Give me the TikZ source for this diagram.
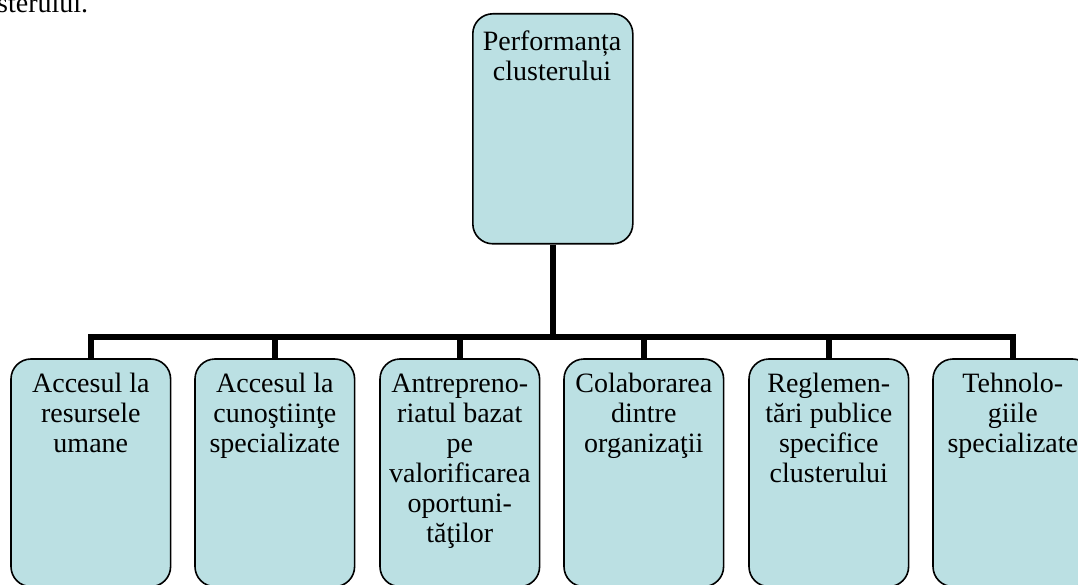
\documentclass[tikz,border=0pt]{standalone}
\usepackage{fontspec}
\setmainfont{Liberation Serif}
\definecolor{boxfill}{RGB}{187,224,227}
\begin{document}
\begin{tikzpicture}[x=1pt,y=-1pt,
  box/.style={draw=black, line width=1.6pt, fill=boxfill, rounded corners=20pt,
    minimum width=158pt, minimum height=226pt, inner sep=0pt, anchor=north west},
  lbl/.style={font=\fontsize{28}{30}\selectfont, align=center, inner sep=0pt, anchor=north},
  conn/.style={line width=6pt}]
\useasboundingbox (0,0) rectangle (1078,585);
\clip (0,0) rectangle (1078,585);

% end of the preceding sentence
\node[font=\fontsize{28}{30}\selectfont, inner sep=0pt, anchor=base west] (prev) at (-3,13) {sterului.};

% root box
\node[box, minimum width=160pt, minimum height=230pt] (top) at (472,13) {};
\node[lbl] (toptxt) at (552,29) {\strut Performanța\\clusterului};

% child boxes
\node[box] (c1) at (11,359) {};
\node[box] (c2) at (195,359) {};
\node[box] (c3) at (380,359) {};
\node[box] (c4) at (564,359) {};
\node[box] (c5) at (749,359) {};
\node[box] (c6) at (933,359) {};

% connectors
\path (top.south) ++(0,92) coordinate (bus);
\draw[conn] (top.south) -- (bus);
\foreach \i in {1,...,6} \draw[conn] (bus) -| (c\i.north);

% redraw boxes over the connector ends
\foreach \i in {1,...,6}
  \draw[draw=black, line width=1.6pt, fill=boxfill, rounded corners=20pt]
    (c\i.north west) rectangle (c\i.south east);

% labels
\node[lbl] (t1) at (c1.north |- 0,371) {\strut Accesul la\\resursele\\umane};
\node[lbl] (t2) at (c2.north |- 0,371) {\strut Accesul la\\cunoştiinţe\\specializate};
\node[lbl] (t3) at (c3.north |- 0,371) {\strut Antrepreno-\\riatul bazat\\pe\\valorificarea\\oportuni-\\tăţilor};
\node[lbl] (t4) at (c4.north |- 0,371) {\strut Colaborarea\\dintre\\organizaţii};
\node[lbl] (t5) at (c5.north |- 0,371) {\strut Reglemen-\\tări publice\\specifice\\clusterului};
\node[lbl] (t6) at (c6.north |- 0,371) {\strut Tehnolo-\\giile\\specializate};
\end{tikzpicture}
\end{document}
